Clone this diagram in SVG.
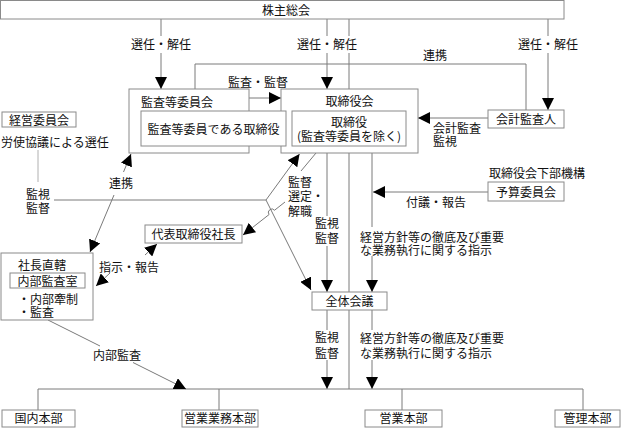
<svg xmlns="http://www.w3.org/2000/svg" width="621" height="428" viewBox="0 0 621 428">
<defs>
<style>
text{font-family:"Noto Sans CJK JP","Noto Sans CJK SC",sans-serif;font-size:12px;fill:#111}
.c{text-anchor:middle}
.box{fill:#fff;stroke:#8a8a8a;stroke-width:1}
.ln{fill:none;stroke:#7a7a7a;stroke-width:1}
.lt{fill:none;stroke:#b0b0b0;stroke-width:1}
.ar{marker-end:url(#ah)}
</style>
<marker id="ah" viewBox="0 0 12 12" refX="12" refY="6" markerWidth="12" markerHeight="12" markerUnits="userSpaceOnUse" orient="auto-start-reverse">
<path d="M0,0 L12,6 L0,12 z" fill="#000"/>
</marker>
</defs>

<g id="connectors">
<path class="ln" d="M161,19 V36 M327,19 V36 M349,19 V36 M548,19 V36"/>
<path class="ln ar" d="M161,53 V89"/>
<path class="ln ar" d="M327,53 V89"/>
<path class="ln" d="M349,53 V389"/>
<path class="ln ar" d="M548,53 V110"/>
<path class="ln" d="M195,89 V64 H526 V110"/>
<path class="ln ar" d="M249,98 H281"/>
<path class="ln ar" d="M488,118 H418"/>
<path class="ln ar" d="M488,192 H373"/>
<path class="ln ar" d="M123.5,172 L131,154"/>
<path class="ln ar" d="M114,195 L90,252"/>
<path class="ln ar" d="M145,255 L157,244"/>
<path class="ln ar" d="M110,273 L96,286"/>
<path class="ln ar" d="M54,200 H266 L299.5,154"/>
<path class="ln ar" d="M266,200 L311,290"/>
<path class="ln" d="M316,153 L301,171"/>
<path class="ln ar" d="M285,202 L274.55,210.24 A3.5,3.5 0 0 0 269.05,214.56 L243,235"/>
<path class="ln" d="M327,153 V216"/>
<path class="ln ar" d="M327,246 V292"/>
<path class="ln" d="M372,153 V227"/>
<path class="ln ar" d="M372,256 V292"/>
<path class="ln" d="M327,310 V330 M372,310 V330"/>
<path class="ln ar" d="M327,360 V389"/>
<path class="ln ar" d="M372,360 V389"/>
<path class="ln" d="M38,410 V389 H583 V410 M219,389 V410 M402,389 V410"/>
<path class="ln" d="M48,320 L100,346"/>
<path class="ln ar" d="M133,362.5 L186,389"/>
<path class="lt" d="M38,150 V182"/>
<text class="c" x="161" y="49">選任・解任</text>
<text class="c" x="327" y="49">選任・解任</text>
<text class="c" x="548" y="49">選任・解任</text>
<text class="c" x="435" y="60">連携</text>
<text class="c" x="258" y="87">監査・監督</text>
<text x="433" y="133">会計監査</text>
<text x="433" y="146">監視</text>
<text class="c" x="38" y="199">監視</text>
<text class="c" x="38" y="213">監督</text>
<text class="c" x="121" y="188">連携</text>
<text x="288" y="187">監督</text>
<text x="288" y="201">選定・</text>
<text x="288" y="216">解職</text>
<text class="c" x="327" y="227.5">監視</text>
<text class="c" x="327" y="242.5">監督</text>
<text class="c" x="436" y="207">付議・報告</text>
<text x="360" y="242">経営方針等の徹底及び重要</text>
<text x="360" y="255">な業務執行に関する指示</text>
<text class="c" x="129" y="272">指示・報告</text>
<text class="c" x="327" y="342">監視</text>
<text class="c" x="327" y="358">監督</text>
<text x="360" y="342.5">経営方針等の徹底及び重要</text>
<text x="360" y="358">な業務執行に関する指示</text>
<text class="c" x="117" y="360">内部監査</text>
</g>

<g id="shareholders">
<rect class="box" x="0.5" y="0.5" width="563.5" height="18.5"/>
<text class="c" x="286" y="14.5">株主総会</text>
</g>

<g id="board">
<rect class="box" x="281" y="89" width="137" height="64"/>
<text class="c" x="349.5" y="106">取締役会</text>
<rect class="box" x="292" y="111" width="114" height="35"/>
<text class="c" x="349" y="127">取締役</text>
<text class="c" x="349" y="141">(監査等委員を除く)</text>
</g>

<g id="audit-committee">
<rect class="box" x="129" y="89" width="120" height="64"/>
<text x="141" y="107">監査等委員会</text>
<rect class="box" x="141" y="111" width="145" height="35"/>
<text class="c" x="213.5" y="133.5">監査等委員である取締役</text>
</g>

<g id="accounting-auditor">
<rect class="box" x="488" y="110" width="76" height="18"/>
<text class="c" x="526" y="124">会計監査人</text>
</g>

<g id="management-committee">
<rect class="box" x="2" y="112" width="74" height="15"/>
<text class="c" x="39" y="124.5">経営委員会</text>
<text x="1" y="147">労使協議による選任</text>
</g>

<g id="president">
<rect class="box" x="145" y="225" width="97" height="18"/>
<text class="c" x="193.5" y="239">代表取締役社長</text>
</g>

<g id="budget-committee">
<text x="489" y="178">取締役会下部機構</text>
<rect class="box" x="488" y="182" width="76" height="19"/>
<text class="c" x="526" y="196.5">予算委員会</text>
</g>

<g id="general-meeting">
<rect class="box" x="312" y="292" width="75" height="18"/>
<text class="c" x="349.5" y="306">全体会議</text>
</g>

<g id="internal-audit">
<rect class="box" x="1" y="253" width="92" height="67"/>
<text x="18" y="270">社長直轄</text>
<rect class="box" x="10" y="273" width="75" height="15"/>
<text class="c" x="47.5" y="285.5">内部監査室</text>
<text x="18" y="304">・内部牽制</text>
<text x="18" y="317">・監査</text>
</g>

<g id="domestic">
<rect class="box" x="2" y="410" width="73" height="17"/>
<text class="c" x="38.5" y="423">国内本部</text>
</g>
<g id="sales-ops">
<rect class="box" x="182" y="410" width="76" height="17"/>
<text class="c" x="220" y="423">営業業務本部</text>
</g>
<g id="sales">
<rect class="box" x="365" y="410" width="77" height="17"/>
<text class="c" x="403.5" y="423">営業本部</text>
</g>
<g id="admin">
<rect class="box" x="555" y="410" width="65" height="17"/>
<text class="c" x="587.5" y="423">管理本部</text>
</g>
</svg>
